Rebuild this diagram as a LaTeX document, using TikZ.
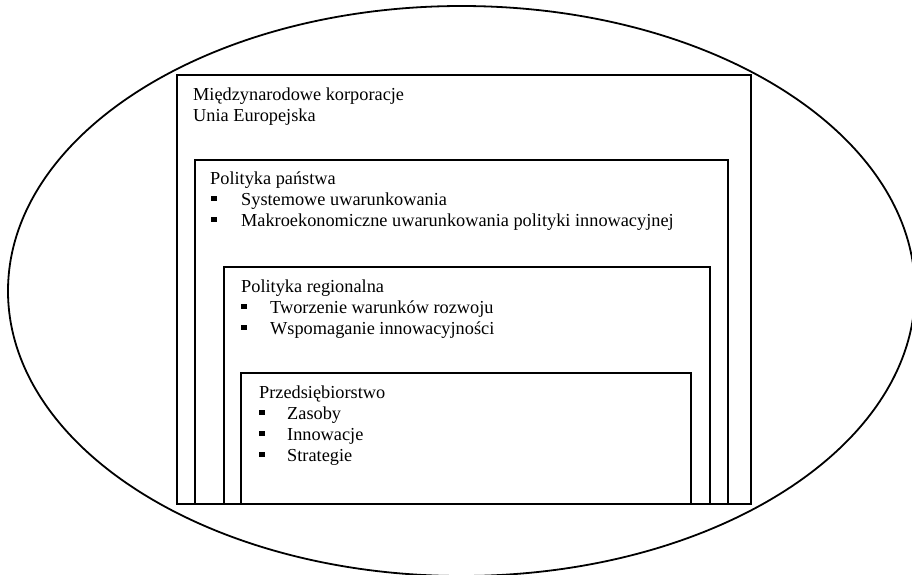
\documentclass[tikz,border=0pt]{standalone}
\usepackage{fontspec}
\setmainfont{Liberation Serif}
\newcommand{\bsq}[1]{\llap{\raisebox{4pt}{\rule{5.5pt}{5.5pt}}\hspace{#1}}}
\begin{document}
\begin{tikzpicture}[x=1pt,y=-1pt]
\tikzset{
  frame/.style={draw=black, line width=1.8pt},
  oval/.style={draw=black, line width=1.8pt},
  lbl/.style={anchor=base west, inner sep=0pt, font=\fontsize{18.3}{21}\selectfont}
}
\path[use as bounding box] (0,0) rectangle (912,574);
\begin{scope}
\clip (0,0) rectangle (912,574);
\draw[oval] (461.5,291) ellipse [x radius=453.5pt, y radius=285pt];
\end{scope}
% boxes
\draw[frame] (177,75) rectangle (751,504);
\draw[frame] (195,160) rectangle (728,504);
\draw[frame] (224,267) rectangle (710,504);
\draw[frame] (241,373) rectangle (691,504);
% box 1
\node[lbl] (m1) at (193,100) {Międzynarodowe korporacje};
\node[lbl] (m2) at (193,121) {Unia Europejska};
% box 2
\node[lbl] (p1) at (210,184) {Polityka państwa};
\node[lbl] (p2) at (241,205) {\bsq{24.5pt}Systemowe uwarunkowania};
\node[lbl] (p3) at (241,226) {\bsq{24.5pt}Makroekonomiczne uwarunkowania polityki innowacyjnej};
% box 3
\node[lbl] (r1) at (241,292) {Polityka regionalna};
\node[lbl] (r2) at (270,313) {\bsq{23.5pt}Tworzenie warunków rozwoju};
\node[lbl] (r3) at (270,334) {\bsq{23.5pt}Wspomaganie innowacyjności};
% box 4
\node[lbl] (e1) at (259,398) {Przedsiębiorstwo};
\node[lbl] (e2) at (287,419) {\bsq{22.5pt}Zasoby};
\node[lbl] (e3) at (287,440) {\bsq{22.5pt}Innowacje};
\node[lbl] (e4) at (287,461) {\bsq{22.5pt}Strategie};
\end{tikzpicture}
\end{document}
